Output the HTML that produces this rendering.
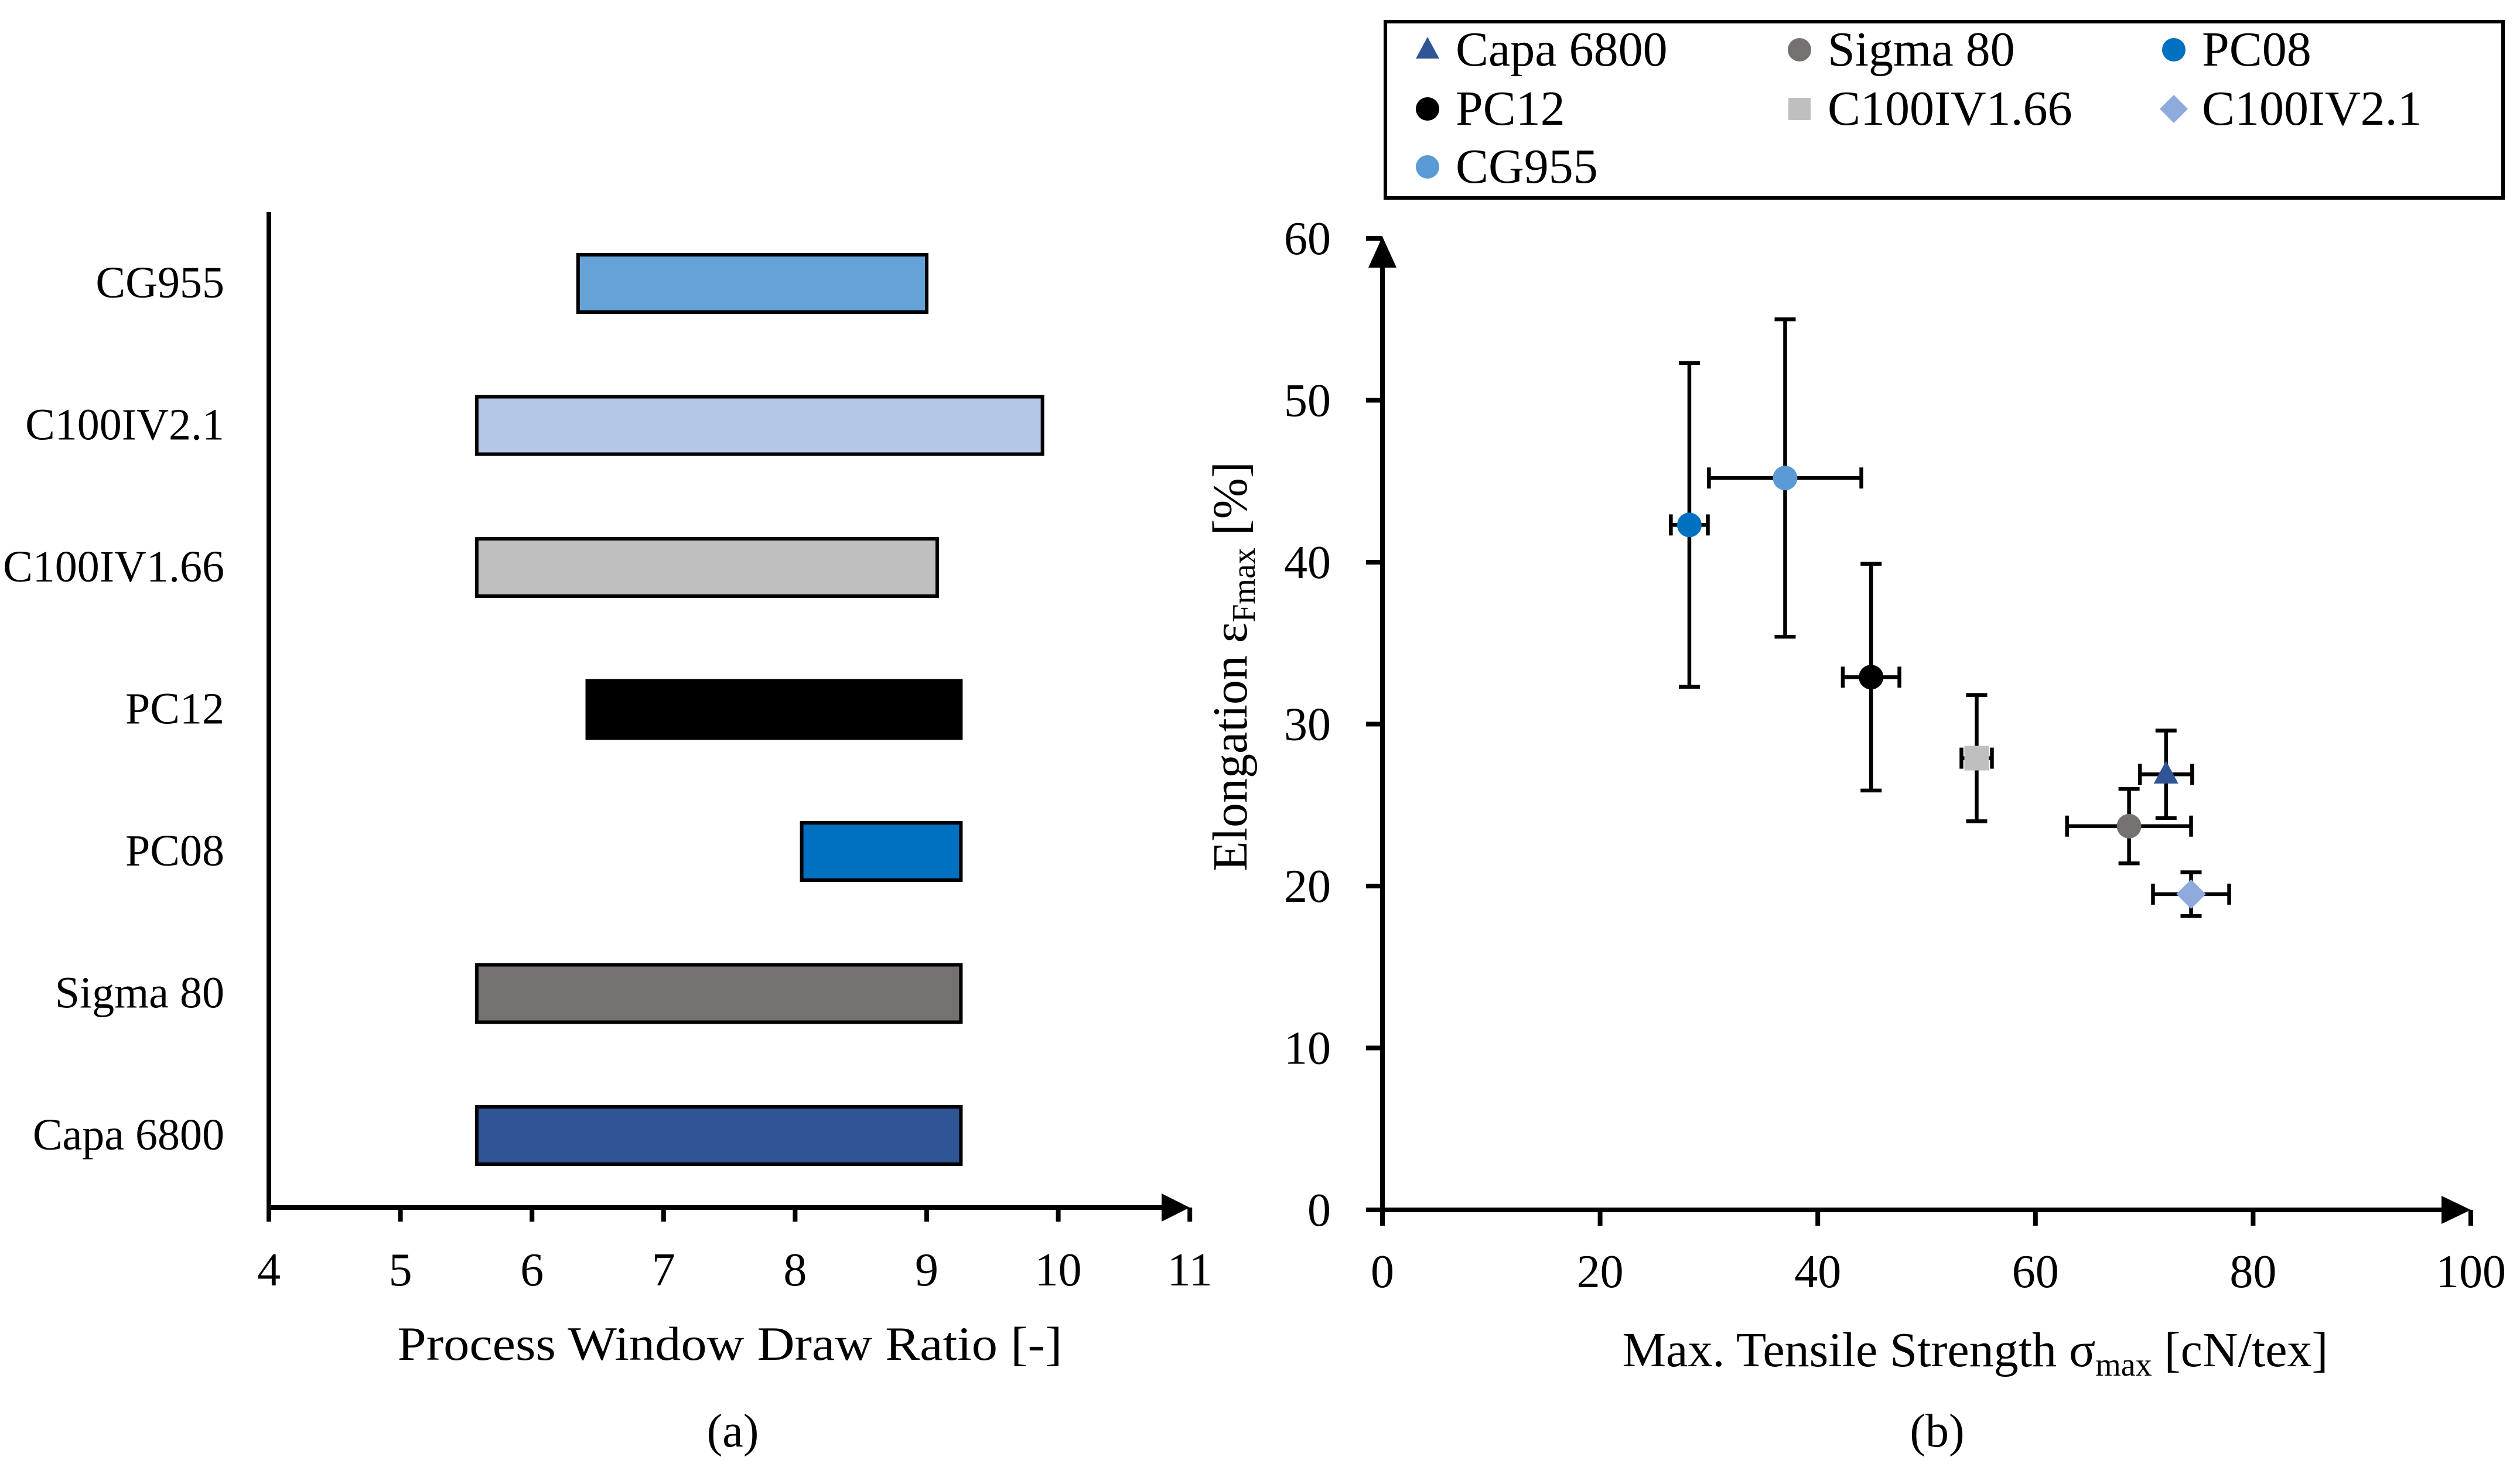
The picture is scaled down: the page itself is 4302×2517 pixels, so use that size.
<!DOCTYPE html>
<html><head><meta charset="utf-8">
<style>
html,body{margin:0;padding:0;background:#fff;}
svg{display:block;font-family:"Liberation Serif",serif;}
</style></head>
<body>
<svg id="fig" width="4302" height="2517" viewBox="0 0 4302 2517" xmlns="http://www.w3.org/2000/svg">
<rect x="0" y="0" width="4302" height="2517" fill="#fff"/>
<g id="left"></g>
<g id="right"></g>
</svg>
<script>
// ---------- Chart (a) data ----------
const barCategories = ["Capa 6800","Sigma 80","PC08","PC12","C100IV1.66","C100IV2.1","CG955"];
const barStart = [5.58,5.58,8.05,6.42,5.58,5.58,6.35];
const barEnd = [9.26,9.26,9.26,9.26,9.08,9.88,9.00];
const barColors = ["#2F5597","#767171","#0070C0","#000000","#BFBFBF","#B4C7E7","#65A2D8"];
const xTicksA = [4,5,6,7,8,9,10,11];

// ---------- Chart (b) data ----------
const seriesNames = ["Capa 6800","Sigma 80","PC08","PC12","C100IV1.66","C100IV2.1","CG955"];
const strength = [72.0,68.6,28.2,44.9,54.6,74.3,37.0];
const strengthErr = [2.4,5.7,1.7,2.6,1.4,3.5,7.0];
const elongation = [26.9,23.7,42.3,32.9,27.9,19.5,45.2];
const elongationErr = [2.7,2.3,10.0,7.0,3.9,1.35,9.8];
const markerShapes = ["triangle","circle","circle","circle","square","diamond","circle"];
const markerColors = ["#2F5597","#767171","#0070C0","#000000","#BFBFBF","#8FAADC","#5B9BD5"];
const xTicksB = [0,20,40,60,80,100];
const yTicksB = [0,10,20,30,40,50,60];

const NS = "http://www.w3.org/2000/svg";
function mk(tag, attrs, parent){
  const e = document.createElementNS(NS, tag);
  for (const k in attrs) e.setAttribute(k, attrs[k]);
  parent.appendChild(e);
  return e;
}
const FS = 80;

// ===== Chart (a) =====
const L = document.getElementById('left');
const ax0 = 459, axUnit = 224.6, axY = 2062;
const xA = v => ax0 + (v - 4) * axUnit;
const catCenterY = i => 1939 - i * 242.5;
const barH = 98;

for (let i = 0; i < barCategories.length; i++) {
  const r = mk('rect', {x: xA(barStart[i]), y: catCenterY(i) - barH/2, width: xA(barEnd[i]) - xA(barStart[i]), height: barH, fill: barColors[i], stroke: '#000', 'stroke-width': 6}, L);
  
  
  const t = mk('text', {x: 383, y: catCenterY(i) + 24, 'text-anchor': 'end', 'font-size': 76}, L);
  t.textContent = barCategories[i];
  
  
}
// axes
let e = mk('line', {x1: ax0, y1: 362, x2: ax0, y2: axY + 4, stroke: '#000', 'stroke-width': 8}, L);


e = mk('line', {x1: ax0 - 4, y1: axY, x2: 1990, y2: axY, stroke: '#000', 'stroke-width': 8}, L);


e = mk('polygon', {points: `1983,${axY-24} 2031,${axY} 1983,${axY+24}`, fill: '#000'}, L);


for (const v of xTicksA) {
  const tk = mk('line', {x1: xA(v), y1: axY, x2: xA(v), y2: axY + 24, stroke: '#000', 'stroke-width': 8}, L);
  
  
  const tl = mk('text', {x: xA(v), y: 2195, 'text-anchor': 'middle', 'font-size': FS}, L);
  tl.textContent = v;
  
  
}
e = mk('text', {x: 1246, y: 2322, 'text-anchor': 'middle', 'font-size': 82, textLength: 1135, lengthAdjust: 'spacingAndGlyphs'}, L);
e.textContent = 'Process Window Draw Ratio [-]';


e = mk('text', {x: 1251, y: 2470, 'text-anchor': 'middle', 'font-size': FS}, L);
e.textContent = '(a)';



// ===== Chart (b) =====
const R = document.getElementById('right');
const bx0 = 2360, bxUnit = (4218 - 2360) / 100, by0 = 2066, byUnit = (2066 - 407) / 60;
const xB = v => bx0 + v * bxUnit;
const yB = v => by0 - v * byUnit;

e = mk('line', {x1: bx0, y1: 450, x2: bx0, y2: by0 + 24, stroke: '#000', 'stroke-width': 8}, R);


e = mk('polygon', {points: `${bx0-24},457 ${bx0},404 ${bx0+24},457`, fill: '#000'}, R);


e = mk('line', {x1: bx0 - 28, y1: by0, x2: 4175, y2: by0, stroke: '#000', 'stroke-width': 8}, R);


e = mk('polygon', {points: `4168,${by0-24} 4218,${by0} 4168,${by0+24}`, fill: '#000'}, R);


for (const v of xTicksB) {
  const tk = mk('line', {x1: xB(v), y1: by0, x2: xB(v), y2: by0 + 27, stroke: '#000', 'stroke-width': 8}, R);
  
  
  const tl = mk('text', {x: xB(v), y: 2198, 'text-anchor': 'middle', 'font-size': FS}, R);
  tl.textContent = v;
  
  
}
for (const v of yTicksB) {
  const tk = mk('line', {x1: bx0 - 28, y1: yB(v), x2: bx0, y2: yB(v), stroke: '#000', 'stroke-width': 8}, R);
  
  
  const tl = mk('text', {x: 2272, y: yB(v) + 27, 'text-anchor': 'end', 'font-size': FS}, R);
  tl.textContent = v;
  
  
}

function marker(shape, cx, cy, s, color, parent){
  let m;
  if (shape === 'circle') m = mk('circle', {cx: cx, cy: cy, r: s, fill: color}, parent);
  else if (shape === 'square') m = mk('rect', {x: cx - s, y: cy - s, width: 2*s, height: 2*s, fill: color}, parent);
  else if (shape === 'diamond') m = mk('polygon', {points: `${cx},${cy-s*1.2} ${cx+s*1.2},${cy} ${cx},${cy+s*1.2} ${cx-s*1.2},${cy}`, fill: color}, parent);
  else m = mk('polygon', {points: `${cx},${cy-s*1.1} ${cx+s},${cy+s*0.75} ${cx-s},${cy+s*0.75}`, fill: color}, parent);
  return m;
}

const cap = 18;
for (let i = 0; i < seriesNames.length; i++) {
  const g = mk('g', {}, R);
  
  
  const cx = xB(strength[i]), cy = yB(elongation[i]);
  const x1 = xB(strength[i] - strengthErr[i]), x2 = xB(strength[i] + strengthErr[i]);
  const y1 = yB(elongation[i] + elongationErr[i]), y2 = yB(elongation[i] - elongationErr[i]);
  const st = {stroke: '#000', 'stroke-width': 6.5};
  const lines = [
    [cx, y1, cx, y2], [cx - cap, y1, cx + cap, y1], [cx - cap, y2, cx + cap, y2],
    [x1, cy, x2, cy], [x1, cy - cap, x1, cy + cap], [x2, cy - cap, x2, cy + cap]
  ];
  for (const l of lines) {
    const ln = mk('line', Object.assign({x1: l[0], y1: l[1], x2: l[2], y2: l[3]}, st), g);
    
    
  }
  const m = marker(markerShapes[i], cx, cy, 21, markerColors[i], g);
  
  
}

// y axis title
e = mk('text', {x: 0, y: 0, 'font-size': 84, 'text-anchor': 'middle', transform: 'translate(2128,1138) rotate(-90)'}, R);


e.innerHTML = 'Elongation ε<tspan font-size="56" dy="14">Fmax</tspan><tspan dy="-14"> [%]</tspan>';
// x axis title
e = mk('text', {x: 3372, y: 2333, 'font-size': 84, 'text-anchor': 'middle'}, R);


e.innerHTML = 'Max. Tensile Strength σ<tspan font-size="56" dy="16">max</tspan><tspan dy="-16"> [cN/tex]</tspan>';
e = mk('text', {x: 3307, y: 2470, 'text-anchor': 'middle', 'font-size': FS}, R);
e.textContent = '(b)';



// legend
const LG = mk('g', {}, R);


e = mk('rect', {x: 2365, y: 37, width: 1908, height: 301, fill: '#fff', stroke: '#000', 'stroke-width': 6}, LG);


const colX = [2437, 3072, 3711], rowY = [112, 213, 312];
for (let i = 0; i < seriesNames.length; i++) {
  const c = i % 3, r = Math.floor(i / 3);
  const le = mk('g', {}, LG);
  
  
  const m = marker(markerShapes[i], colX[c], rowY[r] - 27, markerShapes[i] === 'square' ? 19 : 20, markerColors[i], le);
  
  
  const t = mk('text', {x: colX[c] + 48, y: rowY[r], 'font-size': 84}, le);
  t.textContent = seriesNames[i];
  
  
}
</script>
</body></html>
